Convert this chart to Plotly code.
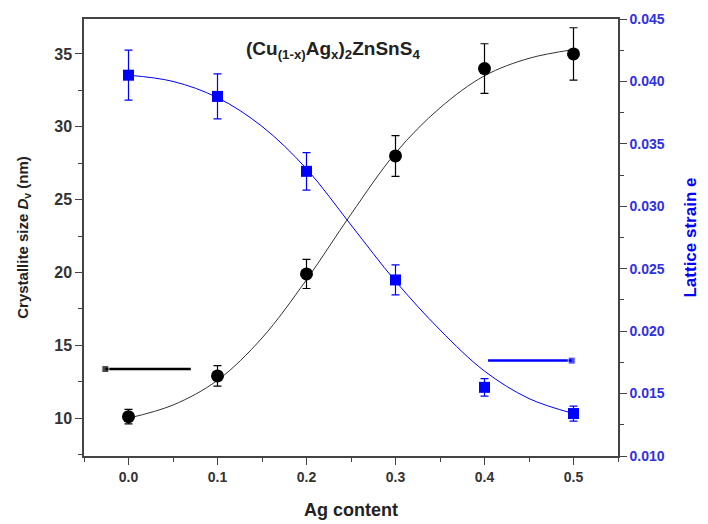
import plotly.graph_objects as go

# ---- data ----
ag_content = [0.0, 0.1, 0.2, 0.3, 0.4, 0.5]
crystallite_size = [10.1, 12.9, 19.9, 28.0, 34.0, 35.0]
crystallite_err = [0.5, 0.7, 1.0, 1.4, 1.7, 1.8]
lattice_strain = [0.0405, 0.0388, 0.0328, 0.0241, 0.0155, 0.0134]
lattice_err = [0.0020, 0.0018, 0.0015, 0.0012, 0.0007, 0.0006]

fit_x = [0.0, 0.05, 0.1, 0.15, 0.2, 0.25, 0.3, 0.35, 0.4, 0.45, 0.5]
fit_size = [10.0, 10.9, 12.6, 15.5, 19.5, 24.0, 28.2, 31.3, 33.5, 34.7, 35.3]
fit_strain = [0.0405, 0.0400, 0.0387, 0.0364, 0.0330, 0.0285, 0.0240, 0.0201, 0.0168, 0.0146, 0.0134]

# arrows pointing to each axis
arrow_size_x = [-0.026, 0.07]
arrow_size_y = [13.37, 13.37]
arrow_strain_x = [0.404, 0.498]
arrow_strain_y = [0.01764, 0.01764]

BLUE = "#0000ff"
FONT = "Liberation Sans, Arial, sans-serif"

fig = go.Figure()

fig.add_trace(go.Scatter(x=fit_x, y=fit_size, mode="lines", line=dict(color="#333333", width=1, shape="spline"),
                         showlegend=False, hoverinfo="skip"))
fig.add_trace(go.Scatter(x=fit_x, y=fit_strain, mode="lines", line=dict(color=BLUE, width=1, shape="spline"),
                         yaxis="y2", showlegend=False, hoverinfo="skip"))

fig.add_trace(go.Scatter(
    x=ag_content, y=crystallite_size, mode="markers",
    marker=dict(symbol="circle", size=13, color="black"),
    error_y=dict(type="data", array=crystallite_err, color="black", thickness=1.2, width=4),
    showlegend=False))
fig.add_trace(go.Scatter(
    x=ag_content, y=lattice_strain, mode="markers", yaxis="y2",
    marker=dict(symbol="square", size=11, color=BLUE),
    error_y=dict(type="data", array=lattice_err, color=BLUE, thickness=1.2, width=4),
    showlegend=False))

# arrows (line + small rectangular head)
fig.add_trace(go.Scatter(x=arrow_size_x, y=arrow_size_y, mode="lines+markers",
                         line=dict(color="black", width=2.5),
                         marker=dict(symbol="square", size=[7, 0], color="black"),
                         showlegend=False, hoverinfo="skip"))
fig.add_trace(go.Scatter(x=arrow_strain_x, y=arrow_strain_y, mode="lines+markers", yaxis="y2",
                         line=dict(color=BLUE, width=2.5),
                         marker=dict(symbol="square", size=[0, 7], color=BLUE),
                         showlegend=False, hoverinfo="skip"))

axis_line = dict(showline=True, linecolor="#444444", linewidth=1.5, showgrid=False, zeroline=False,
                 ticks="outside", ticklen=7, tickwidth=1.2, tickcolor="#444444", automargin=False)

fig.update_layout(
    width=708, height=524,
    margin=dict(l=84, r=90, t=19, b=68),
    plot_bgcolor="white", paper_bgcolor="white",
    font=dict(family=FONT, color="#333333"),
    xaxis=dict(**axis_line, range=[-0.05, 0.55], dtick=0.1, tick0=0, tickformat=".1f",
               mirror=True,
               minor=dict(dtick=0.05, ticks="outside", ticklen=4, tickcolor="#444444"),
               tickfont=dict(size=14, color="#333333", family=FONT, weight="bold"),
               title=dict(text="<b>Ag content</b>", font=dict(size=18, color="#222222"), standoff=20)),
    yaxis=dict(**axis_line, range=[7.4, 37.4], dtick=5, tick0=0,
               minor=dict(dtick=2.5, ticks="outside", ticklen=4, tickcolor="#444444"),
               tickfont=dict(size=16, color="#333333", family=FONT, weight="bold"),
               title=dict(text="<b>Crystallite size <i>D</i><sub>v</sub> (nm)</b>",
                          font=dict(size=15, color="#222222"), standoff=22)),
    yaxis2=dict(**axis_line, range=[0.010, 0.045], dtick=0.005, tick0=0, tickformat=".3f",
                overlaying="y", side="right",
                minor=dict(dtick=0.0025, ticks="outside", ticklen=4, tickcolor="#444444"),
                tickfont=dict(size=14, color="#3030e8", family=FONT, weight="bold"),
                title=dict(text="<b>Lattice strain e</b>", font=dict(size=17, color=BLUE), standoff=20)),
    annotations=[dict(
        text="<b>(Cu<sub>(1-x)</sub>Ag<sub>x</sub>)<sub>2</sub>ZnSnS<sub>4</sub></b>",
        x=0.23, y=35.3, xref="x", yref="y", showarrow=False,
        font=dict(size=19, color="#222222", family=FONT))],
)

fig.write_html("out.html")
